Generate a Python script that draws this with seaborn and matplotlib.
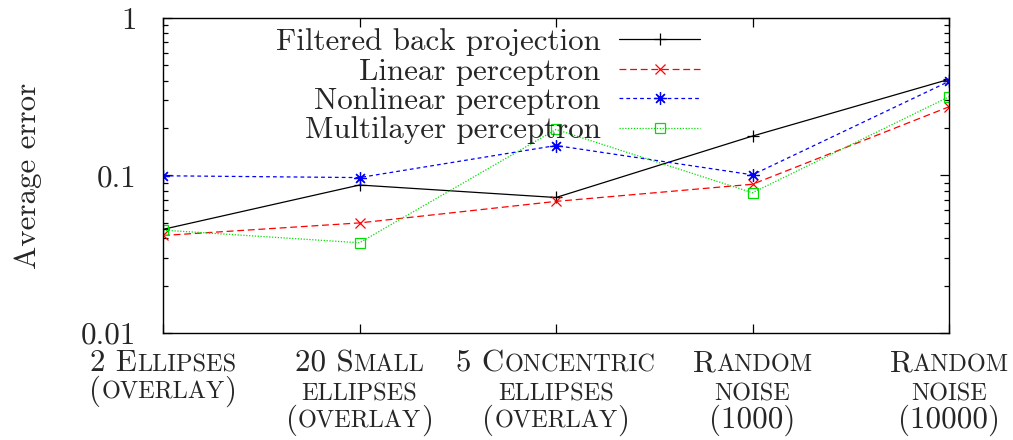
import numpy as np
import pandas as pd
import matplotlib
matplotlib.use("Agg")
import matplotlib.pyplot as plt
import seaborn as sns
from matplotlib.offsetbox import TextArea, HPacker, AnnotationBbox
from matplotlib.ticker import FixedLocator, FixedFormatter, LogLocator, NullFormatter

# ---------------- data ----------------
categories = ["2 Ellipses (overlay)", "20 Small ellipses (overlay)",
              "5 Concentric ellipses (overlay)", "Random noise (1000)",
              "Random noise (10000)"]
fbp = [0.0455, 0.087, 0.0725, 0.178, 0.408]
linear = [0.0416, 0.050, 0.0685, 0.088, 0.273]
nonlinear = [0.0996, 0.097, 0.155, 0.101, 0.396]
multilayer = [0.045, 0.0374, 0.196, 0.0777, 0.316]
series_names = ["Filtered back projection", "Linear perceptron",
                "Nonlinear perceptron", "Multilayer perceptron"]
ytick_values = [0.01, 0.1, 1]
ytick_labels = ["0.01", "0.1", "1"]
y_label = "Average error"
# small-caps tick labels: (text, capital-size?)
category_label_lines = [
    [[("2 E", True), ("LLIPSES", False)],
     [("(", True), ("OVERLAY", False), (")", True)]],
    [[("20 S", True), ("MALL", False)],
     [("ELLIPSES", False)],
     [("(", True), ("OVERLAY", False), (")", True)]],
    [[("5 C", True), ("ONCENTRIC", False)],
     [("ELLIPSES", False)],
     [("(", True), ("OVERLAY", False), (")", True)]],
    [[("R", True), ("ANDOM", False)],
     [("NOISE", False)],
     [("(1000)", True)]],
    [[("R", True), ("ANDOM", False)],
     [("NOISE", False)],
     [("(10000)", True)]],
]

# ---------------- style ----------------
sns.set_style("ticks")
FONT = "cmr10"
plt.rcParams["font.family"] = [FONT, "DejaVu Serif"]
plt.rcParams["axes.unicode_minus"] = False
BIG = 22.3
SMALL = 17.5
DPI = 100

fig = plt.figure(figsize=(10.13, 4.40), dpi=DPI)
ax = fig.add_axes([163 / 1013, 1 - 333 / 440, (949 - 163) / 1013, (333 - 18) / 440])

x = list(range(len(categories)))
styles = [
    dict(color="black", marker="+", linestyle="-", markersize=8),
    dict(color="#ff0000", marker="x", linestyle=(0, (5.5, 3)), markersize=7),
    dict(color="#0000ff", marker=(8, 2, 0), linestyle=(0, (3, 2.5)), markersize=9),
    dict(color="#00e000", marker="s", linestyle=(0, (1, 1.3)), markersize=7,
         markerfacecolor="none"),
]
for name, vals, st in zip(series_names, [fbp, linear, nonlinear, multilayer], styles):
    sns.lineplot(x=x, y=vals, ax=ax, label=name, linewidth=0.9,
                 markeredgecolor=st["color"], markeredgewidth=0.9, **st)

ax.set_yscale("log")
ax.set_ylim(0.01, 1)
ax.set_xlim(0, len(categories) - 1)
ax.yaxis.set_major_locator(FixedLocator(ytick_values))
ax.yaxis.set_major_formatter(FixedFormatter(ytick_labels))
ax.yaxis.set_minor_locator(LogLocator(base=10, subs=np.arange(2, 10)))
ax.yaxis.set_minor_formatter(NullFormatter())
ax.xaxis.set_major_locator(FixedLocator(x))
ax.set_xticklabels([""] * len(x))
ax.tick_params(axis="both", which="both", direction="in", top=True, right=True,
               color="black", width=0.9)
ax.tick_params(axis="both", which="major", length=6.5)
ax.tick_params(axis="y", which="minor", length=3.6)
ax.tick_params(axis="y", which="major", labelsize=BIG, pad=19)
for lab in ax.get_yticklabels():
    lab.set_family(FONT)
for sp in ax.spines.values():
    sp.set_linewidth(1.0)
    sp.set_color("black")
ax.set_xlabel("")
ax.set_ylabel(y_label, fontsize=BIG, family=FONT, labelpad=28)

leg = ax.legend(loc="upper right", bbox_to_anchor=(0.683, 0.968),
                frameon=False, markerfirst=False, prop=dict(family=FONT, size=BIG),
                handlelength=2.6, handletextpad=0.6, labelspacing=0.05,
                borderpad=0, borderaxespad=0)

# small-caps category labels, one line at a time at fixed baselines
baselines_px = [37, 67, 96]          # below the axes' bottom edge
for xi, lines in zip(x, category_label_lines):
    for li, segs in enumerate(lines):
        has_big = any(big for _, big in segs)
        descent_px = (0.23 * (BIG if has_big else SMALL)) * DPI / 72
        parts = [TextArea(t, textprops=dict(family=FONT, size=BIG if big else SMALL))
                 for t, big in segs]
        row = HPacker(children=parts, align="baseline", pad=0, sep=0)
        off_pt = -(baselines_px[li] + descent_px) * 72 / DPI
        ab = AnnotationBbox(row, (xi, 0), xycoords=("data", "axes fraction"),
                            xybox=(0, off_pt), boxcoords="offset points",
                            box_alignment=(0.5, 0), frameon=False, pad=0,
                            annotation_clip=False)
        ax.add_artist(ab)

fig.savefig("out.png", dpi=DPI)
